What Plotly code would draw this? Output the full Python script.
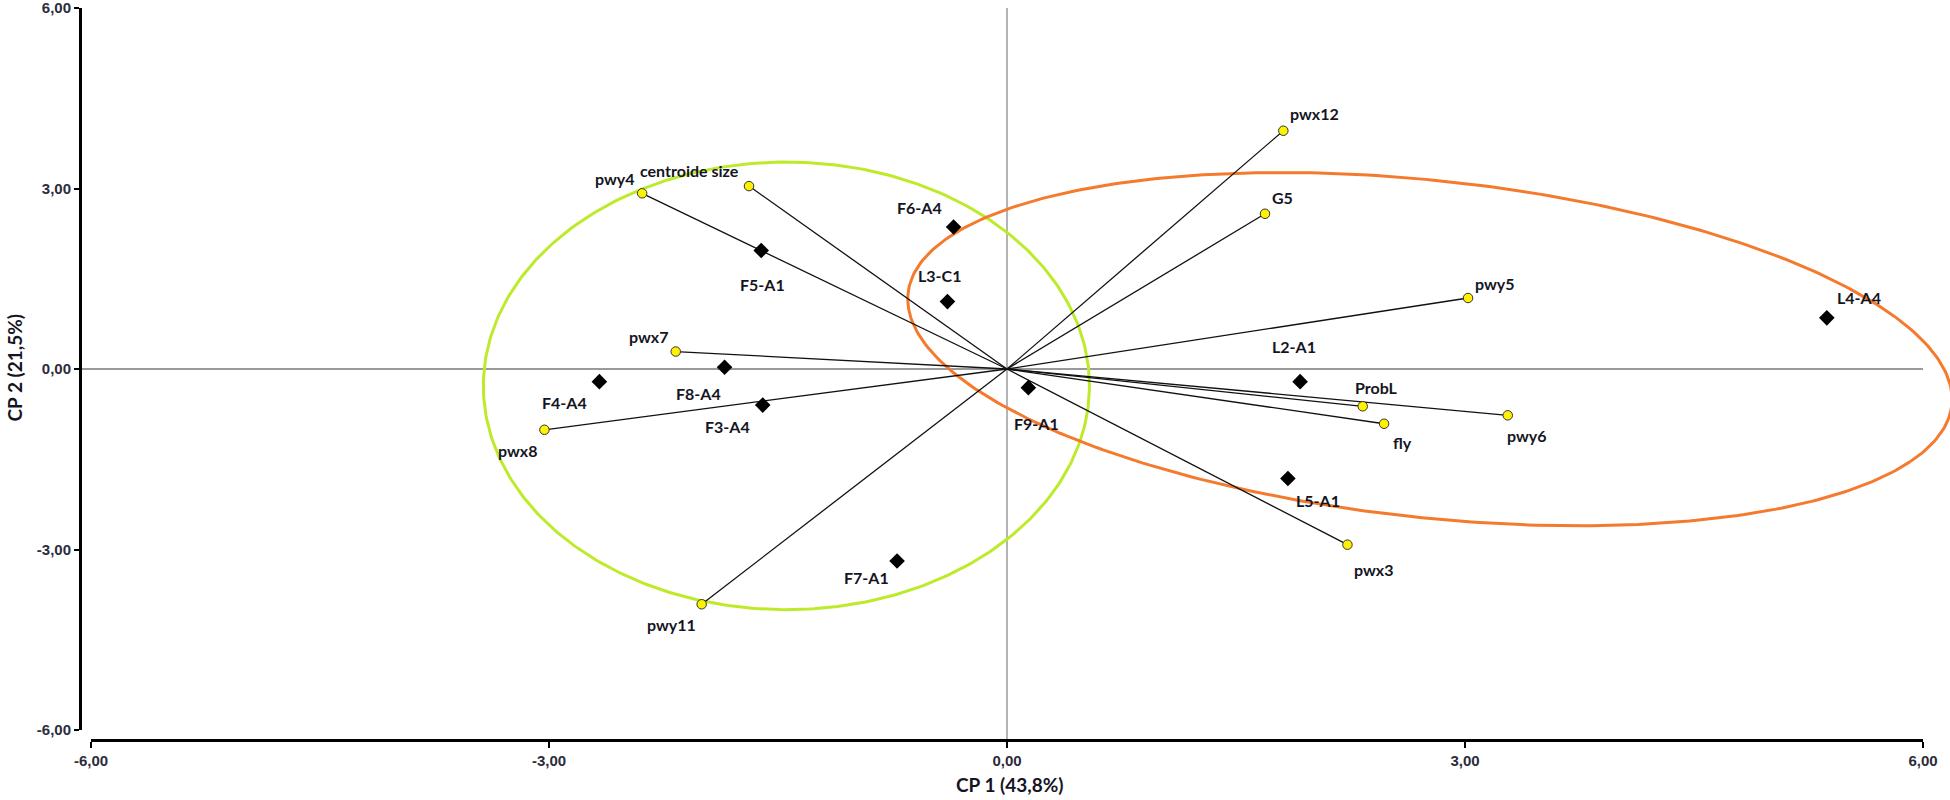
import numpy as np
import plotly.graph_objects as go

# ---------------- data ----------------
var_names = ["pwx12", "G5", "pwy5", "pwy4", "centroide size", "pwx7",
             "pwx8", "pwy11", "ProbL", "fly", "pwy6", "pwx3"]
var_x = [1.81, 1.69, 3.02, -2.39, -1.69, -2.17, -3.03, -2.00, 2.33, 2.47, 3.28, 2.23]
var_y = [3.96, 2.58, 1.18, 2.92, 3.04, 0.29, -1.01, -3.91, -0.62, -0.91, -0.77, -2.92]

obs_names = ["F5-A1", "F8-A4", "F4-A4", "F3-A4", "F7-A1", "F6-A4",
             "L3-C1", "F9-A1", "L2-A1", "L4-A4", "L5-A1"]
obs_x = [-1.61, -1.85, -2.67, -1.60, -0.72, -0.35, -0.39, 0.14, 1.92, 5.37, 1.84]
obs_y = [1.97, 0.03, -0.21, -0.60, -3.19, 2.36, 1.12, -0.31, -0.21, 0.85, -1.82]

tick_vals = [-6, -3, 0, 3, 6]
tick_text = ["-6,00", "-3,00", "0,00", "3,00", "6,00"]

x_title = "CP 1 (43,8%)"
y_title = "CP 2 (21,5%)"

# group ellipses (center x, center y, semi-axis a, semi-axis b, angle deg)
green_ellipse = (-1.445, -0.28, 1.985, 3.72, 0.0)
orange_ellipse = (2.77, 0.33, 3.66, 2.63, -30.8)

# ---------------- label offsets (px: dx right, dy down) ----------------
label_offsets = {
    "pwx12": (31, -17), "G5": (17, -16), "pwy5": (27, -15), "L4-A4": (32, -20),
    "pwy4": (-27, -15), "centroide size": (-59, -16), "F5-A1": (1, 34),
    "pwx7": (-27, -15), "F8-A4": (-26, 26), "F4-A4": (-35, 21), "F3-A4": (-35, 21),
    "pwx8": (-27, 21), "pwy11": (-30, 20), "F7-A1": (-31, 17), "F6-A4": (-34, -20),
    "L3-C1": (-8, -26), "F9-A1": (8, 36), "L2-A1": (-6, -35), "ProbL": (14, -19),
    "fly": (18, 19), "pwy6": (19, 20), "L5-A1": (30, 22), "pwx3": (26, 25),
}

# ---------------- geometry of the page ----------------
W, H = 1950, 800
ML, MT, MB = 82, 8, 61
paper_w = W - ML
paper_h = H - MT - MB
x_lo_px, x_hi_px = 91, 1923     # pixel positions of -6 and 6 on x
y_lo_px = 730                   # pixel of -6 on y
d0 = (x_lo_px - ML) / paper_w
d1 = (x_hi_px - ML) / paper_w
yd0 = (MT + paper_h - y_lo_px) / paper_h
xe_hi = -6 + 12 * (1 - d0) / (d1 - d0)

def ellipse(cx, cy, a, b, ang):
    t = np.linspace(0, 2 * np.pi, 400)
    th = np.deg2rad(ang)
    x = cx + a * np.cos(t) * np.cos(th) - b * np.sin(t) * np.sin(th)
    y = cy + a * np.cos(t) * np.sin(th) + b * np.sin(t) * np.cos(th)
    return x, y

fig = go.Figure()

# ellipses on an x axis that extends past 6 so the orange one is not clipped
gx, gy = ellipse(*green_ellipse)
ox, oy = ellipse(*orange_ellipse)
fig.add_trace(go.Scatter(x=gx, y=gy, mode="lines", xaxis="x", yaxis="y",
                         line=dict(color="#BDEB2C", width=3), hoverinfo="skip"))
fig.add_trace(go.Scatter(x=ox, y=oy, mode="lines", xaxis="x", yaxis="y",
                         line=dict(color="#F47A2E", width=3), hoverinfo="skip"))

# vectors
lx, ly = [], []
for vx, vy in zip(var_x, var_y):
    lx += [0, vx, None]
    ly += [0, vy, None]
fig.add_trace(go.Scatter(x=lx, y=ly, mode="lines", xaxis="x2", yaxis="y",
                         line=dict(color="#111111", width=1.3), hoverinfo="skip"))

fig.add_trace(go.Scatter(x=obs_x, y=obs_y, mode="markers", text=obs_names,
                         xaxis="x2", yaxis="y",
                         marker=dict(symbol="diamond", size=12, color="black")))
fig.add_trace(go.Scatter(x=var_x, y=var_y, mode="markers", text=var_names,
                         xaxis="x2", yaxis="y",
                         marker=dict(symbol="circle", size=9.5, color="#FFF200",
                                     line=dict(color="#333333", width=1))))

# invisible traces so that the detached display axes get drawn
fig.add_trace(go.Scatter(x=[0], y=[0.5], mode="markers", xaxis="x3", yaxis="y3",
                         marker=dict(opacity=0), hoverinfo="skip"))
fig.add_trace(go.Scatter(x=[0.5], y=[0], mode="markers", xaxis="x4", yaxis="y4",
                         marker=dict(opacity=0), hoverinfo="skip"))

label_font = dict(family="Lato, Roboto, sans-serif", size=16, color="#15151f",
                  weight="bold")
for names, xs, ys in ((var_names, var_x, var_y), (obs_names, obs_x, obs_y)):
    for n, x, y in zip(names, xs, ys):
        dx, dy = label_offsets[n]
        fig.add_annotation(x=x, y=y, xref="x2", yref="y", text=n, showarrow=False,
                           xshift=dx, yshift=-dy, font=label_font,
                           xanchor="center", yanchor="middle")

# zero lines
fig.add_shape(type="line", xref="paper", yref="y", x0=0, x1=d1, y0=0, y1=0,
              line=dict(color="#9a9a9a", width=2), layer="below")
fig.add_shape(type="line", xref="x2", yref="paper", x0=0, x1=0, y0=0, y1=1,
              line=dict(color="#6a6a6a", width=1), layer="below")

title_font = dict(family="Lato, Roboto, sans-serif", size=19, color="#15151f",
                  weight="bold")
fig.add_annotation(xref="paper", yref="paper", x=(1010 - ML) / paper_w,
                   y=(MT + paper_h - 785) / paper_h, text=x_title, showarrow=False,
                   font=title_font, xanchor="center", yanchor="middle")
fig.add_annotation(xref="paper", yref="paper", x=(13.5 - ML) / paper_w,
                   y=(MT + paper_h - 368) / paper_h, text=y_title, showarrow=False,
                   font=title_font, textangle=-90, xanchor="center", yanchor="middle")

tick_font = dict(family="Liberation Sans, Arial, sans-serif", size=15,
                 color="#2c2c3c", weight="bold")
hidden = dict(visible=False, showgrid=False, zeroline=False, automargin=False)
fig.update_layout(
    width=W, height=H, margin=dict(l=ML, r=0, t=MT, b=MB, autoexpand=False),
    plot_bgcolor="rgba(0,0,0,0)", paper_bgcolor="white", showlegend=False,
    xaxis=dict(domain=[d0, 1], range=[-6, xe_hi], anchor="y", **hidden),
    xaxis2=dict(domain=[d0, d1], range=[-6, 6], anchor="y", **hidden),
    yaxis=dict(domain=[yd0, 1], range=[-6, 6], anchor="x2", **hidden),
    # display x axis on a flat strip at the very bottom of the plotting area
    xaxis3=dict(domain=[d0, d1], range=[-6, 6], anchor="y3",
                showline=True, linecolor="black", linewidth=3, ticks="outside",
                ticklen=6, tickwidth=2, tickcolor="black", tickvals=tick_vals,
                ticktext=tick_text, showgrid=False, zeroline=False,
                tickfont=tick_font, automargin=False, ticklabeloverflow="allow"),
    yaxis3=dict(domain=[0, 0.001], range=[0, 1], anchor="x3", **hidden),
    # display y axis on a thin strip at the very left of the plotting area
    yaxis4=dict(domain=[yd0, 1], range=[-6, 6], anchor="x4",
                showline=True, linecolor="black", linewidth=3, ticks="outside",
                ticklen=5, tickwidth=2, tickcolor="black", tickvals=tick_vals,
                ticktext=tick_text, showgrid=False, zeroline=False,
                tickfont=tick_font, automargin=False, ticklabeloverflow="allow"),
    xaxis4=dict(domain=[0, 0.0005], range=[0, 1], anchor="y4", **hidden),
)

fig.write_html("out.html", config={"displayModeBar": False},
               post_script="document.body.style.margin='0';"
                           "document.body.style.overflow='hidden';")
